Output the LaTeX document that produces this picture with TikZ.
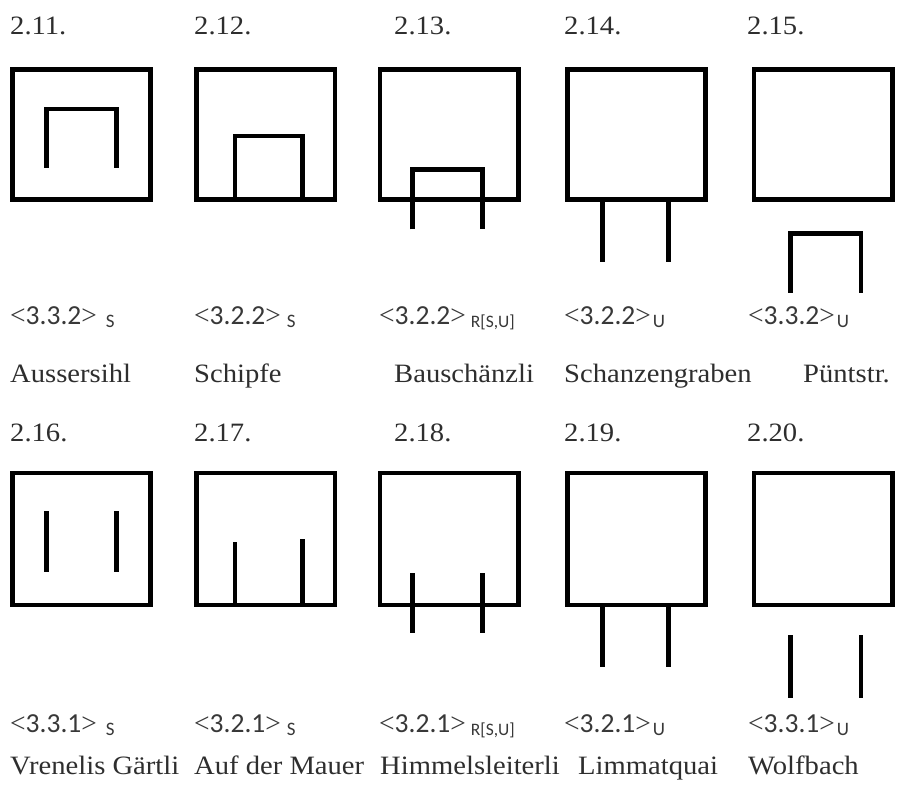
\documentclass[tikz,border=0pt]{standalone}
\usepackage{fontspec}
\setmainfont[FakeStretch=1.08]{Liberation Serif}
\newfontfamily\codefont{Carlito}
\newfontfamily\relfont{Liberation Serif}
% code label: <digits> followed by a lowered index
\newcommand{\lt}{{\relfont <}}
\newcommand{\gt}{{\relfont >}}
\newcommand{\subtag}[2]{\hspace{#1}\raisebox{-3pt}{\fontsize{19}{19}\selectfont #2}}
\newcommand{\subtagsmall}[2]{\hspace{#1}\raisebox{-3pt}{\fontsize{17.5}{17.5}\selectfont #2}}
\begin{document}
\begin{tikzpicture}[x=1pt,y=-1pt,
  frame/.style={line width=4.8pt,line join=miter},
  bar/.style={line width=4.8pt,line cap=butt,line join=miter},
  numtxt/.style={anchor=base west,inner sep=0pt,font=\fontsize{26.5}{26.5}\selectfont,text=black!82},
  nametxt/.style={anchor=base west,inner sep=0pt,font=\fontsize{26.5}{26.5}\selectfont,text=black!82},
  codetxt/.style={anchor=base west,inner sep=0pt,font=\codefont\fontsize{27.5}{27.5}\selectfont,text=black!78}]
\useasboundingbox (0,0) rectangle (899,791);

% ---------- upper row ----------
\node[numtxt] (n11) at (10,35) {2.11.};
\node[numtxt] (n12) at (194,35) {2.12.};
\node[numtxt] (n13) at (394,35) {2.13.};
\node[numtxt] (n14) at (564,35) {2.14.};
\node[numtxt] (n15) at (747,35) {2.15.};

\draw[frame] (12.5,69.5) rectangle (150.5,199.5);
\draw[frame] (196.5,69.5) rectangle (335,199.5);
\draw[frame] (380,69.5) rectangle (518.5,199.5);
\draw[frame] (567.5,69.5) rectangle (705.5,199.5);
\draw[frame] (754,69.5) rectangle (892.5,199.5);

% 2.11: arch inside
\draw[bar] (46.7,168) -- (46.7,109) -- (116.7,109) -- (116.7,168);
% 2.12: arch standing on the base line
\draw[bar] (235,199.5) -- (235,136) -- (302.7,136) -- (302.7,199.5);
% 2.13: arch crossing the base line
\draw[bar] (412.7,229.3) -- (412.7,169.3) -- (482.7,169.3) -- (482.7,229.3);
% 2.14: legs hanging below
\draw[bar] (602.7,199.5) -- (602.7,261.7);
\draw[bar] (668.7,199.5) -- (668.7,261.7);
% 2.15: arch outside
\draw[bar] (790.7,292.7) -- (790.7,233.3) -- (861,233.3) -- (861,292.7);

\node[codetxt] (c11) at (10,325) {\lt3.3.2\gt\subtag{9pt}{S}};
\node[codetxt] (c12) at (194,325) {\lt3.2.2\gt\subtag{6pt}{S}};
\node[codetxt] (c13) at (379,325) {\lt3.2.2\gt\subtagsmall{5pt}{R[S,U]}};
\node[codetxt] (c14) at (564,325) {\lt3.2.2\gt\subtag{2pt}{U}};
\node[codetxt] (c15) at (748,325) {\lt3.3.2\gt\subtag{2pt}{U}};

\node[nametxt] (t11) at (10,382) {Aussersihl};
\node[nametxt] (t12) at (194,382) {Schipfe};
\node[nametxt] (t13) at (394,382) {Bauschänzli};
\node[nametxt] (t14) at (564,382) {Schanzengraben};
\node[nametxt] (t15) at (803,382) {Püntstr.};

% ---------- lower row ----------
\node[numtxt] (n16) at (10,441) {2.16.};
\node[numtxt] (n17) at (194,441) {2.17.};
\node[numtxt] (n18) at (394,441) {2.18.};
\node[numtxt] (n19) at (564,441) {2.19.};
\node[numtxt] (n20) at (747,441) {2.20.};

\draw[frame] (12.5,473) rectangle (150.5,605);
\draw[frame] (196.5,473) rectangle (335,605);
\draw[frame] (380,473) rectangle (518.5,605);
\draw[frame] (567.5,473) rectangle (705.5,605);
\draw[frame] (754,473) rectangle (892.5,605);

% 2.16: free bars inside
\draw[bar] (46.7,511) -- (46.7,571.7);
\draw[bar] (116.7,511) -- (116.7,571.7);
% 2.17: bars rising from the base line
\draw[bar] (235,605) -- (235,541.7);
\draw[bar] (302.7,605) -- (302.7,539.3);
% 2.18: bars crossing the base line
\draw[bar] (412.7,573.3) -- (412.7,633.3);
\draw[bar] (482.7,573.3) -- (482.7,633.3);
% 2.19: bars hanging below
\draw[bar] (602.7,605) -- (602.7,667.3);
\draw[bar] (668.7,605) -- (668.7,667.3);
% 2.20: free bars outside
\draw[bar] (790.7,635) -- (790.7,697.7);
\draw[bar] (861,635) -- (861,697.7);

\node[codetxt] (c16) at (10,732) {\lt3.3.1\gt\subtag{9pt}{S}};
\node[codetxt] (c17) at (194,732) {\lt3.2.1\gt\subtag{6pt}{S}};
\node[codetxt] (c18) at (379,732) {\lt3.2.1\gt\subtagsmall{5pt}{R[S,U]}};
\node[codetxt] (c19) at (564,732) {\lt3.2.1\gt\subtag{2pt}{U}};
\node[codetxt] (c20) at (748,732) {\lt3.3.1\gt\subtag{2pt}{U}};

\node[nametxt] (t16) at (10,774) {Vrenelis Gärtli};
\node[nametxt] (t17) at (194,774) {Auf der Mauer};
\node[nametxt] (t18) at (380,774) {Himmelsleiterli};
\node[nametxt] (t19) at (578,774) {Limmatquai};
\node[nametxt] (t20) at (748,774) {Wolfbach};
\end{tikzpicture}
\end{document}
